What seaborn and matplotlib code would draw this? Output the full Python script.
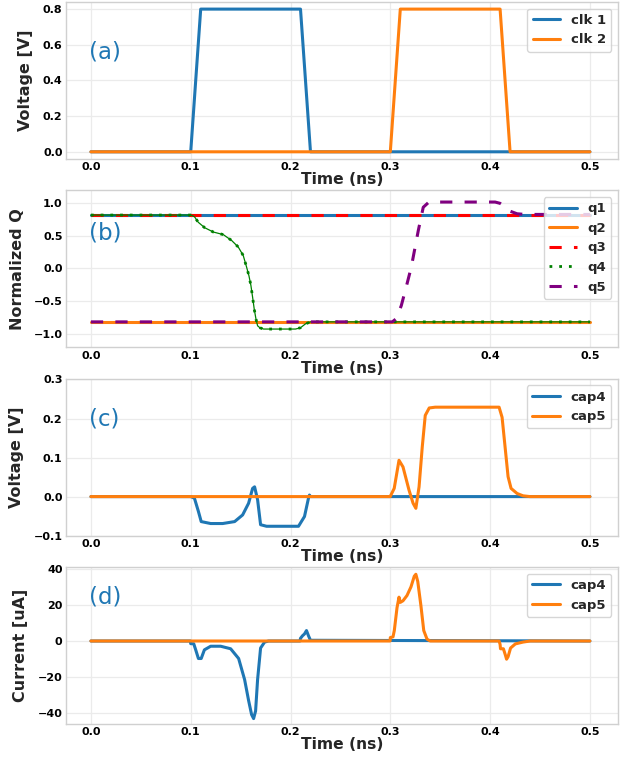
import matplotlib
matplotlib.use("Agg")
import matplotlib.pyplot as plt
import seaborn as sns

# ---------------- data ----------------
# (a) clock inputs
t_clk1 = [0.0, 0.10, 0.11, 0.21, 0.22, 0.50]
v_clk1 = [0.0, 0.0, 0.8, 0.8, 0.0, 0.0]
t_clk2 = [0.0, 0.30, 0.31, 0.41, 0.42, 0.50]
v_clk2 = [0.0, 0.0, 0.8, 0.8, 0.0, 0.0]

# (b) normalized charge states
t_q1 = [0.0, 0.5]
v_q1 = [0.82, 0.82]
t_q2 = [0.0, 0.5]
v_q2 = [-0.82, -0.82]
t_q3 = [0.0, 0.5]
v_q3 = [0.82, 0.82]
t_q4 = [0.0, 0.1, 0.102, 0.104, 0.1075, 0.114, 0.1226, 0.1326, 0.141, 0.1476,
        0.1526, 0.156, 0.1583, 0.1603, 0.162, 0.1636, 0.1653, 0.167, 0.1693,
        0.173, 0.18, 0.205, 0.21, 0.215, 0.22, 0.5]
v_q4 = [0.82, 0.82, 0.81, 0.79, 0.71, 0.626, 0.56, 0.52, 0.43, 0.33,
        0.2, 0.02, -0.11, -0.26, -0.44, -0.62, -0.77, -0.88, -0.91,
        -0.93, -0.93, -0.93, -0.91, -0.85, -0.82, -0.82]
t_q5 = [0.0, 0.302, 0.306, 0.311, 0.316, 0.321, 0.328, 0.333, 0.338, 0.342,
        0.405, 0.41, 0.415, 0.42, 0.427, 0.435, 0.5]
v_q5 = [-0.82, -0.82, -0.77, -0.57, -0.28, 0.02, 0.58, 0.94, 1.01, 1.02,
        1.02, 1.0, 0.95, 0.88, 0.84, 0.83, 0.83]

# (c) capacitor voltages
t_c4v = [0.0, 0.1, 0.1037, 0.1077, 0.1105, 0.12, 0.132, 0.144, 0.152, 0.158,
         0.162, 0.164, 0.167, 0.17, 0.176, 0.208, 0.214, 0.218, 0.219, 0.22, 0.5]
v_c4v = [0.0, 0.0, -0.004, -0.038, -0.064, -0.069, -0.069, -0.064, -0.047, -0.017,
         0.021, 0.025, -0.008, -0.072, -0.076, -0.076, -0.051, -0.004, 0.004, 0.0, 0.0]
t_c5v = [0.0, 0.3, 0.3006, 0.3039, 0.3087, 0.3127, 0.3187, 0.3228, 0.3256, 0.3288,
         0.332, 0.335, 0.339, 0.345, 0.409, 0.412, 0.415, 0.418, 0.421, 0.427,
         0.433, 0.44, 0.5]
v_c5v = [0.0, 0.0, 0.004, 0.021, 0.093, 0.076, 0.017, -0.017, -0.03, 0.025,
         0.127, 0.208, 0.227, 0.229, 0.229, 0.203, 0.127, 0.051, 0.021, 0.008,
         0.002, 0.0, 0.0]

# (d) capacitor currents
t_c4i = [0.0, 0.0997, 0.1, 0.103, 0.105, 0.1077, 0.1105, 0.1137, 0.12, 0.13,
         0.14, 0.148, 0.154, 0.158, 0.161, 0.163, 0.165, 0.167, 0.17, 0.174,
         0.178, 0.2095, 0.21, 0.2106, 0.212, 0.214, 0.216, 0.218, 0.22, 0.5]
v_c4i = [0.0, 0.0, -1.5, -1.5, -4.9, -9.7, -9.7, -4.9, -2.9, -2.9,
         -4.3, -9.7, -21.4, -33.0, -40.8, -43.0, -38.8, -21.4, -3.9, -0.6,
         0.0, 0.0, 1.5, 1.9, 2.9, 3.9, 5.8, 2.9, 0.4, 0.0]
t_c5i = [0.0, 0.2998, 0.3, 0.3027, 0.304, 0.3067, 0.3087, 0.31, 0.3127, 0.3167,
         0.3207, 0.324, 0.3256, 0.3275, 0.3307, 0.3335, 0.3368, 0.34, 0.409, 0.41,
         0.4104, 0.4133, 0.4153, 0.4165, 0.418, 0.4205, 0.4253, 0.433, 0.44, 0.5]
v_c5i = [0.0, 0.0, 1.9, 2.3, 5.8, 18.4, 24.3, 21.4, 22.3, 25.2,
         30.0, 35.9, 37.0, 33.0, 19.4, 5.8, 1.0, 0.0, 0.0, -1.9,
         -4.3, -4.3, -7.8, -10.1, -8.7, -3.9, -1.6, -0.6, 0.0, 0.0]

x_ticks = [0.0, 0.1, 0.2, 0.3, 0.4, 0.5]
panel_tags = ["(a)", "(b)", "(c)", "(d)"]
tag_y = [0.56, 0.55, 0.2, 24.4]
y_labels = ["Voltage [V]", "Normalized Q", "Voltage [V]", "Current [uA]"]
y_label_x = [-0.06, -0.074, -0.076, -0.069]
y_ticks = [[0.0, 0.2, 0.4, 0.6, 0.8],
           [-1.0, -0.5, 0.0, 0.5, 1.0],
           [-0.1, 0.0, 0.1, 0.2, 0.3],
           [-40, -20, 0, 20, 40]]
y_tick_fmt = ["{:.1f}", "{:.1f}", "{:.1f}", "{:.0f}"]
y_limits = [(-0.04, 0.84), (-1.21, 1.2), (-0.1, 0.302), (-46.0, 41.0)]

# ---------------- style ----------------
sns.set_theme(style="whitegrid")
plt.rcParams["font.family"] = ["DejaVu Sans"]
plt.rcParams.update({
    "axes.edgecolor": "#d0d0d0",
    "grid.color": "#ebebeb",
    "grid.linewidth": 0.9,
    "axes.linewidth": 1.0,
})

BLUE = "#1f77b4"
ORANGE = "#ff7f0e"
LW = 2.2


def line(ax, t, v, **kw):
    sns.lineplot(x=t, y=v, ax=ax, estimator=None, sort=False, **kw)


fig, axes = plt.subplots(4, 1, figsize=(6.35, 7.57), dpi=100)
fig.subplots_adjust(left=0.1039, right=0.973, top=0.9974, bottom=0.0436, hspace=0.2)

ax_a, ax_b, ax_c, ax_d = axes

line(ax_a, t_clk1, v_clk1, color=BLUE, linewidth=LW, label="clk 1")
line(ax_a, t_clk2, v_clk2, color=ORANGE, linewidth=LW, label="clk 2")

line(ax_b, t_q1, v_q1, color=BLUE, linewidth=LW, label="q1")
line(ax_b, t_q2, v_q2, color=ORANGE, linewidth=LW, label="q2")
line(ax_b, t_q3, v_q3, color="red", linewidth=LW, linestyle=(0, (4, 4)), label="q3")
line(ax_b, t_q4, v_q4, color="green", linewidth=0.9)
line(ax_b, t_q4, v_q4, color="green", linewidth=2.0, linestyle=(0, (1, 2.5)), label="q4")
line(ax_b, t_q5, v_q5, color="purple", linewidth=LW, linestyle=(0, (4, 4)), label="q5")

line(ax_c, t_c4v, v_c4v, color=BLUE, linewidth=LW, label="cap4")
line(ax_c, t_c5v, v_c5v, color=ORANGE, linewidth=LW, label="cap5")

line(ax_d, t_c4i, v_c4i, color=BLUE, linewidth=LW, label="cap4")
line(ax_d, t_c5i, v_c5i, color=ORANGE, linewidth=LW, label="cap5")

for i, ax in enumerate(axes):
    ax.set_xlim(-0.025, 0.528)
    ax.set_ylim(*y_limits[i])
    ax.set_xticks(x_ticks)
    ax.set_xticklabels([f"{x:.1f}" for x in x_ticks], fontsize=8, fontweight="bold")
    ax.set_yticks(y_ticks[i])
    ax.set_yticklabels([y_tick_fmt[i].format(y).replace("-", "\u2212") for y in y_ticks[i]],
                       fontsize=8, fontweight="bold")
    ax.tick_params(axis="both", length=0, pad=2.5, colors="black")
    ax.set_xlabel("Time (ns)", fontsize=11.2, fontweight="bold", labelpad=0)
    ax.set_ylabel(y_labels[i], fontsize=11.5, fontweight="bold")
    ax.yaxis.set_label_coords(y_label_x[i], 0.5)
    for s in ax.spines.values():
        s.set_color("#d0d0d0")
    ax.text(-0.002, tag_y[i], panel_tags[i], color=BLUE, fontsize=16.5,
            ha="left", va="center")
    ax.legend(loc="upper right", prop={"weight": "bold", "size": 9.5},
              handlelength=2.1)

fig.savefig("out.png", dpi=100)
